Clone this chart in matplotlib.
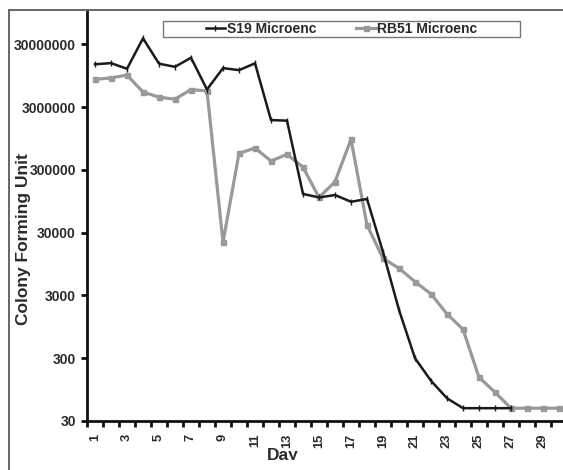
import matplotlib
matplotlib.use("Agg")
import matplotlib.pyplot as plt
from matplotlib.patches import Rectangle
from matplotlib.lines import Line2D
from matplotlib.transforms import Bbox, TransformedBbox
from matplotlib.ticker import FixedLocator, NullFormatter, FixedFormatter

plt.rcParams['font.family'] = ['Liberation Sans', 'DejaVu Sans']
plt.rcParams['font.weight'] = 'bold'

# Colony counts per day for the two microencapsulated strains
days = list(range(1, 31))
s19_cfu = [14400000, 15000000, 12200000, 37300000, 14700000, 13100000, 18300000,
           5700000, 12500000, 11600000, 14900000, 1860000, 1820000, 124000,
           109000, 119000, 93000, 103000, 14700, 1760, 300, 131, 69, 48,
           48, 48, 48, None, None, None]
rb51_cfu = [8300000, 8700000, 9700000, 5200000, 4300000, 4000000, 5700000,
            5400000, 21200, 549000, 667000, 414000, 530000, 330000, 109000,
            194000, 918000, 39600, 11700, 8100, 4960, 3160, 1520, 865, 149,
            86, 48, 48, 48, 48]
series_names = ["S19 Microenc", "RB51 Microenc"]
y_ticks = [30, 300, 3000, 30000, 300000, 3000000, 30000000]
x_label_days = list(range(1, 30, 2))

W, H = 563, 470
fig = plt.figure(figsize=(W / 100, H / 100), dpi=100)

# outer frame of the chart area
fig.add_artist(Line2D([9 / W, 9 / W], [0, 1 - 10 / H], color='#666666', lw=1.4))
fig.add_artist(Line2D([9 / W, 1], [1 - 10 / H, 1 - 10 / H], color='#666666', lw=1.4))

ax_left, ax_right = 87 / W, 567 / W
ax_bottom, ax_top = 49 / H, 1 - 11.4 / H
ax = fig.add_axes([ax_left, ax_bottom, ax_right - ax_left, ax_top - ax_bottom])

s19_x = [d for d, v in zip(days, s19_cfu) if v is not None]
s19_y = [v for v in s19_cfu if v is not None]

ax.plot(days, rb51_cfu, color='#999999', lw=2.3, marker='s', ms=3.6,
        mfc='#999999', mec='#999999', label=series_names[1], zorder=2)
ax.plot(s19_x, s19_y, color='#1a1a1a', lw=1.8, marker='|', ms=4.5, mew=1.0,
        label=series_names[0], zorder=3)

ax.set_yscale('log')
ax.set_ylim(30, 1e8)
ax.set_xlim(0.5, 30.5)

ax.yaxis.set_major_locator(FixedLocator(y_ticks))
ax.yaxis.set_major_formatter(FixedFormatter([str(t) for t in y_ticks]))
ax.yaxis.set_minor_locator(FixedLocator([]))

ax.xaxis.set_major_locator(FixedLocator(x_label_days))
ax.xaxis.set_major_formatter(FixedFormatter([str(d) for d in x_label_days]))
ax.xaxis.set_minor_locator(FixedLocator([d + 0.5 for d in range(0, 31)]))
ax.xaxis.set_minor_formatter(NullFormatter())

for s in ['top', 'right']:
    ax.spines[s].set_visible(False)
for s in ['left', 'bottom']:
    ax.spines[s].set_linewidth(2.0)
    ax.spines[s].set_color('#111111')

ax.tick_params(axis='y', which='major', direction='out', length=4, width=2,
               color='#111111', labelsize=10, labelcolor='#2a2a2a', pad=4)
ax.tick_params(axis='x', which='major', length=0, labelsize=9.3,
               labelcolor='#2a2a2a', pad=9, labelrotation=90)
ax.tick_params(axis='x', which='minor', direction='out', length=4, width=2,
               color='#111111')
for lab in ax.get_xticklabels() + ax.get_yticklabels():
    lab.set_fontweight('bold')

# legend with its own wide frame
ax.add_patch(Rectangle((163 / W, 1 - 37 / H), (520 - 163) / W, 16 / H,
                       transform=fig.transFigure, fill=True, facecolor='white',
                       edgecolor='#777777', lw=1.0, zorder=4, clip_on=False))
handles, labels = ax.get_legend_handles_labels()
order = [1, 0]
leg = ax.legend([handles[i] for i in order], [labels[i] for i in order],
                loc='center', bbox_to_anchor=(((163 + 520) / 2 / W - ax_left) / (ax_right - ax_left),
                                              (1 - 29 / H - ax_bottom) / (ax_top - ax_bottom)),
                ncol=2, frameon=False, handlelength=1.4,
                handletextpad=0.1, columnspacing=2.9, borderpad=0.1,
                prop={'weight': 'bold', 'size': 10})
leg.set_zorder(5)
for t in leg.get_texts():
    t.set_color('#2a2a2a')

fig.text(24 / W, 1 - 239 / H, "Colony Forming Unit", rotation=90, ha='center',
         va='center', fontsize=12.5, fontweight='bold', color='#2a2a2a')
day_txt = fig.text(283 / W, 1 - 460 / H, "Day", ha='center', va='baseline',
                   fontsize=12.5, fontweight='bold', color='#2a2a2a')
day_txt.set_clip_box(TransformedBbox(Bbox([[0, 10 / H], [1, 1]]), fig.transFigure))
day_txt.set_clip_on(True)

fig.savefig("out.png", dpi=100, facecolor='white')
